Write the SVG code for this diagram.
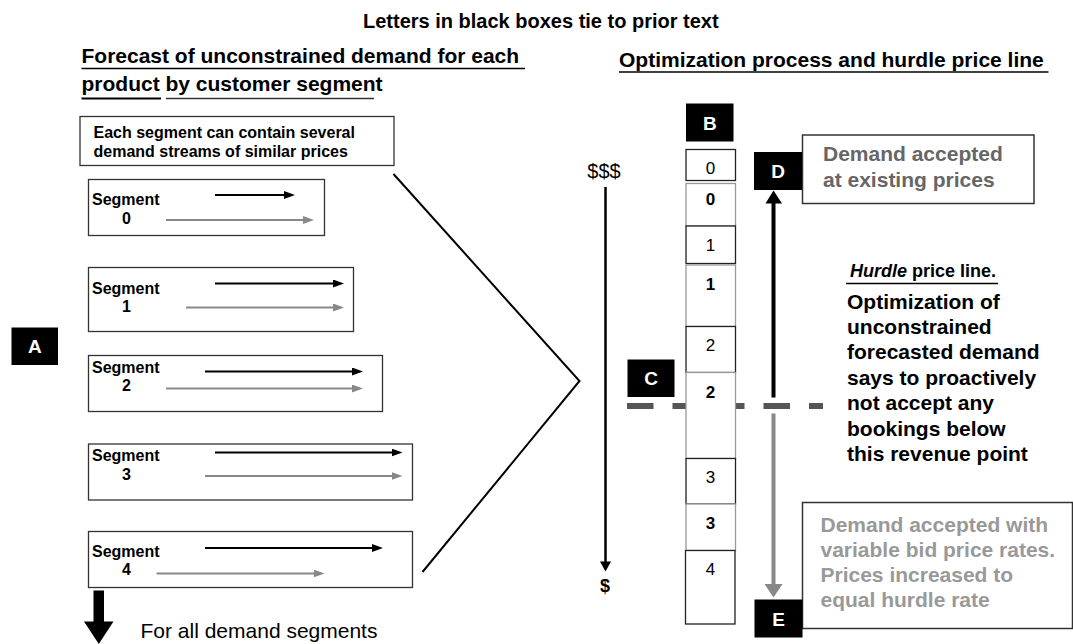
<svg xmlns="http://www.w3.org/2000/svg" width="1073" height="644" viewBox="0 0 1073 644">
<style>
text{font-family:"Liberation Sans",Arial,Helvetica,sans-serif;}
.title{font-size:20px;font-weight:bold;}
.h{font-size:21px;font-weight:bold;}
.b16{font-size:16px;font-weight:bold;}
.seg{fill:#fff;stroke:#333;stroke-width:1.3;}
.lab{fill:#000;}
.lt{fill:#fff;font-size:19px;font-weight:bold;text-anchor:middle;}
.ul{stroke:#000;stroke-width:1.5;}
.blk{stroke:#000;stroke-width:2;fill:none;}
.gry{stroke:#888;stroke-width:2;fill:none;}
.cb{fill:#fff;stroke:#222;stroke-width:1.3;}
.cg{fill:#fff;stroke:#999;stroke-width:1.3;}
.num{font-size:17px;text-anchor:middle;}
.numb{font-size:17px;font-weight:bold;text-anchor:middle;}
.txt{font-size:21px;font-weight:bold;}
</style>
<defs>
<marker id="ab" markerUnits="userSpaceOnUse" markerWidth="11" markerHeight="8" viewBox="0 0 11 8" refX="5" refY="4" orient="auto"><path d="M0,0 L11,4 L0,8 z" fill="#000"/></marker>
<marker id="ag" markerUnits="userSpaceOnUse" markerWidth="11" markerHeight="8" viewBox="0 0 11 8" refX="5" refY="4" orient="auto"><path d="M0,0 L11,4 L0,8 z" fill="#888"/></marker>
</defs>

<g id="headings">
<text class="title" x="363" y="28">Letters in black boxes tie to prior text</text>
<text class="h" x="81.5" y="63">Forecast of unconstrained demand for each</text>
<line class="ul" x1="81.5" y1="68.5" x2="525" y2="68.5"/>
<text class="h" x="81.5" y="90.5">product by customer segment</text>
<line x1="81.5" y1="98.5" x2="161" y2="98.5" stroke="#000" stroke-width="2"/>
<line x1="166" y1="98.5" x2="374" y2="98.5" stroke="#333" stroke-width="1.3"/>
<text class="h" x="619" y="67">Optimization process and hurdle price line</text>
<line class="ul" x1="619" y1="72" x2="1048.5" y2="72"/>
</g>

<g id="note">
<rect class="seg" x="80" y="116.5" width="314" height="49"/>
<text class="b16" x="93.5" y="138">Each segment can contain several</text>
<text class="b16" x="93.5" y="157">demand streams of similar prices</text>
</g>

<g id="segment0">
<rect class="seg" x="88.5" y="179.5" width="236" height="56"/>
<text class="b16" x="92" y="205">Segment</text>
<text class="b16" x="126.5" y="223.5" text-anchor="middle">0</text>
<line class="blk" x1="215" y1="195" x2="289" y2="195" marker-end="url(#ab)"/>
<line class="gry" x1="166" y1="220" x2="308" y2="220" marker-end="url(#ag)"/>
</g>
<g id="segment1">
<rect class="seg" x="88.5" y="267.5" width="265" height="64"/>
<text class="b16" x="92" y="293.5">Segment</text>
<text class="b16" x="126.5" y="312" text-anchor="middle">1</text>
<line class="blk" x1="215" y1="283.5" x2="338" y2="283.5" marker-end="url(#ab)"/>
<line class="gry" x1="186" y1="307.5" x2="338" y2="307.5" marker-end="url(#ag)"/>
</g>
<g id="segment2">
<rect class="seg" x="88.5" y="355.5" width="294" height="56"/>
<text class="b16" x="92" y="372.5">Segment</text>
<text class="b16" x="126.5" y="391" text-anchor="middle">2</text>
<line class="blk" x1="205" y1="371.5" x2="357" y2="371.5" marker-end="url(#ab)"/>
<line class="gry" x1="166" y1="388.5" x2="357" y2="388.5" marker-end="url(#ag)"/>
</g>
<g id="segment3">
<rect class="seg" x="88.5" y="444" width="324" height="56"/>
<text class="b16" x="92" y="461">Segment</text>
<text class="b16" x="126.5" y="479.5" text-anchor="middle">3</text>
<line class="blk" x1="215" y1="452.5" x2="396.5" y2="452.5" marker-end="url(#ab)"/>
<line class="gry" x1="205" y1="476" x2="396.5" y2="476" marker-end="url(#ag)"/>
</g>
<g id="segment4">
<rect class="seg" x="88.5" y="531.5" width="324" height="56"/>
<text class="b16" x="92" y="557">Segment</text>
<text class="b16" x="126.5" y="575" text-anchor="middle">4</text>
<line class="blk" x1="205" y1="548" x2="377" y2="548" marker-end="url(#ab)"/>
<line class="gry" x1="156.5" y1="573.5" x2="318.5" y2="573.5" marker-end="url(#ag)"/>
</g>

<g id="all-segments">
<path d="M93.5,590.5 H104 V621.5 H113.5 L98.75,644 L84,621.5 H93.5 Z" fill="#000"/>
<text x="140.5" y="638" font-size="21px">For all demand segments</text>
</g>

<g id="label-A"><rect class="lab" x="11.5" y="327.5" width="46.5" height="37.5"/><text class="lt" x="34.75" y="353">A</text></g>

<g id="connectors">
<polyline points="393.5,174 579.5,381 422.5,572" fill="none" stroke="#000" stroke-width="2"/>
<line x1="605.5" y1="187" x2="605.5" y2="563" stroke="#000" stroke-width="2.5"/>
<path d="M600,561.5 L611,561.5 L605.5,571.5 Z" fill="#000"/>
<line x1="773.5" y1="397.5" x2="773.5" y2="202" stroke="#000" stroke-width="4"/>
<path d="M765.5,203.5 L782,203.5 L773.5,190.5 Z" fill="#000"/>
<line x1="773.5" y1="413.5" x2="773.5" y2="585" stroke="#888" stroke-width="4"/>
<path d="M764.5,584 L782.5,584 L773.5,597.5 Z" fill="#888"/>
<line x1="627" y1="406" x2="823" y2="406" stroke="#555" stroke-width="6" stroke-dasharray="26.5 19"/>
</g>

<g id="scale">
<text x="604" y="177.5" font-size="20px" text-anchor="middle">$$$</text>
<text x="605" y="592" font-size="18px" font-weight="bold" text-anchor="middle">$</text>
</g>

<g id="label-B"><rect class="lab" x="686" y="103.5" width="47.5" height="38"/><text class="lt" x="709.75" y="129.5">B</text></g>

<g id="column">
<rect class="cb" x="686" y="149.5" width="49.5" height="31"/>
<text class="num" x="710.5" y="174">0</text>
<rect class="cg" x="686" y="183.5" width="49.5" height="42.5"/>
<text class="numb" x="710.5" y="205">0</text>
<rect class="cb" x="686" y="226" width="49.5" height="37.5"/>
<text class="num" x="710.5" y="250.5">1</text>
<rect class="cg" x="686" y="265" width="49.5" height="61.5"/>
<text class="numb" x="710.5" y="289.5">1</text>
<rect class="cb" x="686" y="326.5" width="49.5" height="46"/>
<text class="num" x="710.5" y="351">2</text>
<rect class="cg" x="686" y="372.5" width="49.5" height="86"/>
<text class="numb" x="710.5" y="397.5">2</text>
<rect class="cb" x="686" y="458.5" width="49.5" height="45.5"/>
<text class="num" x="710.5" y="482.5">3</text>
<rect class="cg" x="686" y="504" width="49.5" height="46.5"/>
<text class="numb" x="710.5" y="528.5">3</text>
<rect class="cb" x="685.5" y="550.5" width="49.5" height="73.5"/>
<text class="num" x="710.5" y="575">4</text>
</g>

<g id="label-C"><rect class="lab" x="627.5" y="359.5" width="47" height="37.5"/><text class="lt" x="651" y="385">C</text></g>

<g id="accepted">
<rect x="802.5" y="135" width="231.5" height="68.5" fill="#fff" stroke="#333" stroke-width="1.5"/>
<text class="txt" x="823" y="160.5" fill="#666">Demand accepted</text>
<text class="txt" x="823" y="186.5" fill="#666">at existing prices</text>
</g>
<g id="label-D"><rect class="lab" x="754" y="152" width="48" height="38"/><text class="lt" x="778" y="178">D</text></g>

<g id="hurdle">
<text x="850" y="276.5" font-size="18px" font-weight="bold"><tspan font-style="italic">Hurdle</tspan> price line.</text>
<line class="ul" x1="846" y1="283.5" x2="998" y2="283.5"/>
<text class="txt" x="847" y="308.5">Optimization of</text>
<text class="txt" x="847" y="334">unconstrained</text>
<text class="txt" x="847" y="359">forecasted demand</text>
<text class="txt" x="847" y="384.5">says to proactively</text>
<text class="txt" x="847" y="410">not accept any</text>
<text class="txt" x="847" y="435.5">bookings below</text>
<text class="txt" x="847" y="460.5">this revenue point</text>
</g>

<g id="variable">
<rect x="802.5" y="502.5" width="270" height="126" fill="#fff" stroke="#333" stroke-width="1.5"/>
<text class="txt" x="820.5" y="531.5" fill="#999">Demand accepted with</text>
<text class="txt" x="820.5" y="557" fill="#999">variable bid price rates.</text>
<text class="txt" x="820.5" y="582" fill="#999">Prices increased to</text>
<text class="txt" x="820.5" y="607" fill="#999">equal hurdle rate</text>
</g>
<g id="label-E"><rect class="lab" x="754.5" y="599.5" width="48" height="38"/><text class="lt" x="778.5" y="625.5">E</text></g>
</svg>
